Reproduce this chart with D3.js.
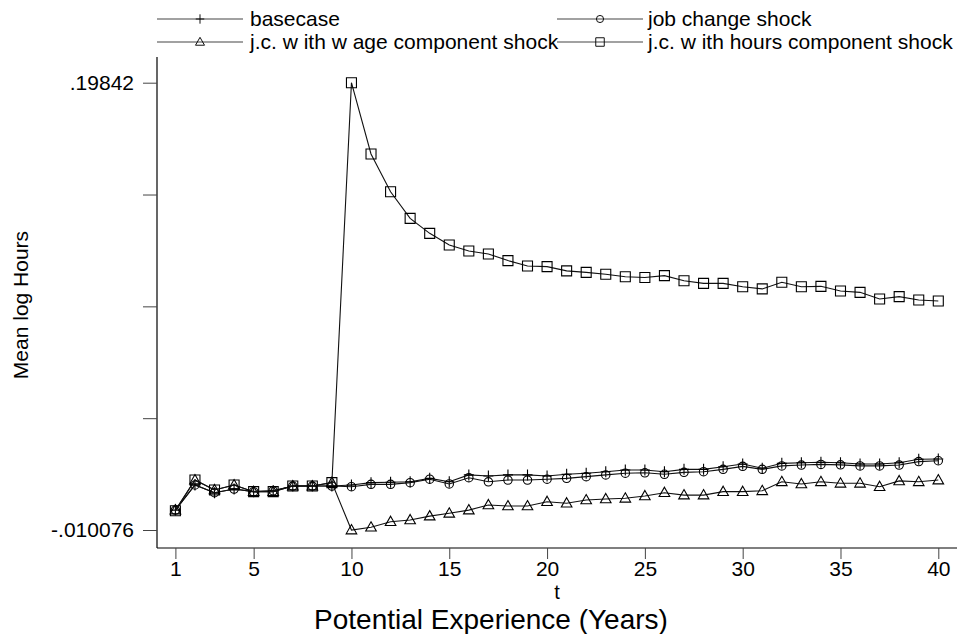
<!DOCTYPE html>
<html>
<head>
<meta charset="utf-8">
<script src="https://cdn.jsdelivr.net/npm/d3@7"></script>
<style>
  body { margin: 0; background: #fff; }
  svg { display: block; font-family: "Liberation Sans", Arial, sans-serif; }
</style>
</head>
<body>
<div id="chart"></div>
<script>
// Data
var tValues = [1, 2, 3, 4, 5, 6, 7, 8, 9, 10, 11, 12, 13, 14, 15, 16, 17, 18, 19, 20,
    21, 22, 23, 24, 25, 26, 27, 28, 29, 30, 31, 32, 33, 34, 35, 36, 37, 38, 39, 40];

var basecase = [-0.0008, 0.0109, 0.0073, 0.0090, 0.0078, 0.0082, 0.0104, 0.0104, 0.0104, 0.0109,
    0.0120, 0.0122, 0.0124, 0.0140, 0.0124, 0.0156, 0.0151, 0.0156, 0.0156, 0.0151,
    0.0159, 0.0164, 0.0171, 0.0179, 0.0179, 0.0171, 0.0182, 0.0182, 0.0194, 0.0207,
    0.0187, 0.0210, 0.0213, 0.0215, 0.0213, 0.0207, 0.0207, 0.0213, 0.0229, 0.0230];

var jobChange = [-0.0008, 0.0109, 0.0073, 0.0090, 0.0078, 0.0082, 0.0104, 0.0104, 0.0104, 0.0101,
    0.0112, 0.0112, 0.0120, 0.0136, 0.0114, 0.0143, 0.0124, 0.0132, 0.0132, 0.0136,
    0.0140, 0.0148, 0.0156, 0.0164, 0.0166, 0.0159, 0.0168, 0.0171, 0.0182, 0.0196,
    0.0182, 0.0198, 0.0202, 0.0205, 0.0203, 0.0198, 0.0198, 0.0202, 0.0218, 0.0222];

var wageShock = [-0.0008, 0.0132, 0.0086, 0.0109, 0.0078, 0.0078, 0.0104, 0.0104, 0.0120, -0.0101,
    -0.0088, -0.0062, -0.0054, -0.0036, -0.0023, -0.0008, 0.0016, 0.0011, 0.0011, 0.0031,
    0.0024, 0.0039, 0.0044, 0.0047, 0.0058, 0.0073, 0.0062, 0.0062, 0.0078, 0.0078,
    0.0082, 0.0124, 0.0114, 0.0124, 0.0117, 0.0117, 0.0101, 0.0128, 0.0124, 0.0132];

var hoursShock = [-0.0011, 0.0132, 0.0086, 0.0109, 0.0078, 0.0078, 0.0104, 0.0104, 0.0120, 0.19842,
    0.1652, 0.1476, 0.1352, 0.1282, 0.1228, 0.1200, 0.1186, 0.1155, 0.1130, 0.1127,
    0.1107, 0.1100, 0.1091, 0.1080, 0.1076, 0.1085, 0.1061, 0.1049, 0.1049, 0.1033,
    0.1023, 0.1054, 0.1033, 0.1035, 0.1013, 0.1007, 0.0976, 0.0987, 0.0971, 0.0967];

var seriesNames = ["basecase", "job change shock", "j.c. w ith w age component shock", "j.c. w ith hours component shock"];
var xTicks = [1, 5, 10, 15, 20, 25, 30, 35, 40];
var yTicks = [-0.010076, 0.042048, 0.094172, 0.146296, 0.19842];
var yTickLabels = ["-.010076", "", "", "", ".19842"];

// Setup
var width = 966, height = 634;
var plot = { left: 157, right: 957, top: 57, bottom: 548 };

var x = d3.scaleLinear().domain([1, 40]).range([175.4, 938.3]);
var y = d3.scaleLinear().domain([-0.010076, 0.19842]).range([530, 82.7]);

var markers = {
    plus: "M-5,0H5M0,-5.5V5.5",
    circle: "M4.2,0A4.2,4.2 0 1,1 -4.2,0A4.2,4.2 0 1,1 4.2,0Z",
    triangle: "M0,-5.5L5.3,3.8L-5.3,3.8Z",
    square: "M-5,-5H5V5H-5Z"
};

var series = [
    { name: seriesNames[0], values: basecase, marker: "plus" },
    { name: seriesNames[1], values: jobChange, marker: "circle" },
    { name: seriesNames[2], values: wageShock, marker: "triangle" },
    { name: seriesNames[3], values: hoursShock, marker: "square" }
];

var svg = d3.select("#chart").append("svg")
    .attr("width", width)
    .attr("height", height);

// Axis lines
svg.append("line")
    .attr("x1", plot.left).attr("x2", plot.left)
    .attr("y1", plot.top).attr("y2", plot.bottom)
    .attr("stroke", "#000").attr("stroke-width", 1.2);
svg.append("line")
    .attr("x1", plot.left).attr("x2", plot.right)
    .attr("y1", plot.bottom).attr("y2", plot.bottom)
    .attr("stroke", "#000").attr("stroke-width", 1.2);

// Y axis
var yAxis = svg.append("g")
    .attr("transform", "translate(" + plot.left + ",0)")
    .call(d3.axisLeft(y)
        .tickValues(yTicks)
        .tickSize(14)
        .tickPadding(9)
        .tickFormat(function (d, i) { return yTickLabels[i]; }));
yAxis.select(".domain").remove();
yAxis.selectAll("line").attr("stroke", "#444");
yAxis.selectAll("text")
    .attr("font-family", "Liberation Sans, Arial, sans-serif")
    .attr("font-size", 21)
    .attr("fill", "#000");

// X axis
var xAxis = svg.append("g")
    .attr("transform", "translate(0," + plot.bottom + ")")
    .call(d3.axisBottom(x)
        .tickValues(xTicks)
        .tickSize(11)
        .tickPadding(2)
        .tickFormat(d3.format("d")));
xAxis.select(".domain").remove();
xAxis.selectAll("line").attr("stroke", "#444");
xAxis.selectAll("text")
    .attr("font-family", "Liberation Sans, Arial, sans-serif")
    .attr("font-size", 21)
    .attr("fill", "#000");

// Titles
svg.append("text")
    .attr("transform", "translate(28,305) rotate(-90)")
    .attr("text-anchor", "middle")
    .attr("font-size", 21)
    .text("Mean log Hours");

svg.append("text")
    .attr("x", 557).attr("y", 599)
    .attr("text-anchor", "middle")
    .attr("font-size", 20)
    .text("t");

svg.append("text")
    .attr("x", 491).attr("y", 629)
    .attr("text-anchor", "middle")
    .attr("font-size", 28)
    .text("Potential Experience (Years)");

// Lines and markers
var line = d3.line()
    .x(function (d, i) { return x(tValues[i]); })
    .y(function (d) { return y(d); });

series.forEach(function (s) {
    svg.append("path")
        .attr("d", line(s.values))
        .attr("fill", "none")
        .attr("stroke", "#111")
        .attr("stroke-width", 1.1);

    svg.append("g").selectAll("path")
        .data(s.values)
        .enter().append("path")
        .attr("transform", function (d, i) { return "translate(" + x(tValues[i]) + "," + y(d) + ")"; })
        .attr("d", markers[s.marker])
        .attr("fill", "none")
        .attr("stroke", "#000")
        .attr("stroke-width", 1.1);
});

// Legend
var legendPos = [
    { lx: 157, ly: 19 },
    { lx: 557, ly: 19 },
    { lx: 157, ly: 42 },
    { lx: 557, ly: 42 }
];

series.forEach(function (s, i) {
    var p = legendPos[i];
    var g = svg.append("g").attr("transform", "translate(" + p.lx + "," + p.ly + ")");
    g.append("line")
        .attr("x1", 0).attr("x2", 86)
        .attr("y1", 0).attr("y2", 0)
        .attr("stroke", "#444").attr("stroke-width", 1.1);
    g.append("path")
        .attr("transform", "translate(43,0) scale(0.85)")
        .attr("d", markers[s.marker])
        .attr("fill", "none")
        .attr("stroke", "#000")
        .attr("stroke-width", 1.1);
    g.append("text")
        .attr("x", i % 2 === 0 ? 93 : 91)
        .attr("y", 7)
        .attr("font-size", 21)
        .text(s.name);
});
</script>
</body>
</html>
